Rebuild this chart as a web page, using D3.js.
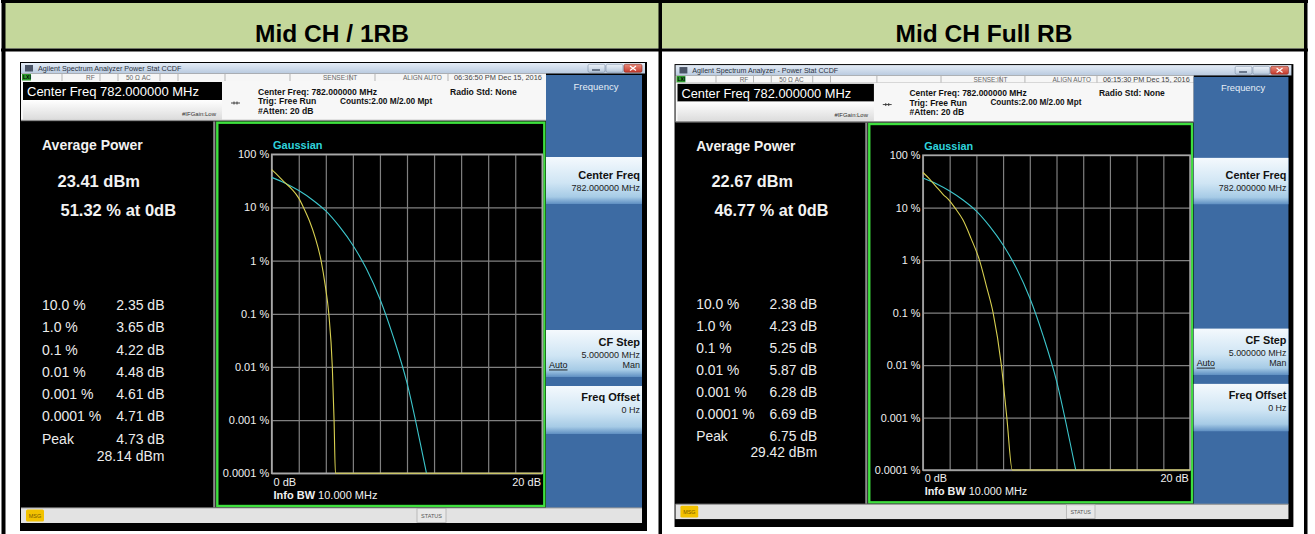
<!DOCTYPE html>
<html>
<head>
<meta charset="utf-8">
<script src="https://cdn.jsdelivr.net/npm/d3@7"></script>
<style>
  body { margin: 0; background: #fff; }
  svg { display: block; font-family: "Liberation Sans", Arial, sans-serif; }
</style>
</head>
<body>
<svg id="canvas" width="1315" height="534"></svg>
<script>
// ---- values ----
const panelTitles = ['Mid CH / 1RB', 'Mid CH Full RB'];
const windowTitles = ['Agilent Spectrum Analyzer   Power Stat CCDF', 'Agilent Spectrum Analyzer - Power Stat CCDF'];
const timestamps = ['06:36:50 PM Dec 15, 2016', '06:15:30 PM Dec 15, 2016'];
const avgPower = ['23.41 dBm', '22.67 dBm'];
const pctAtZero = ['51.32 % at 0dB', '46.77 % at 0dB'];
const ccdfLevels = ['10.0 %', '1.0 %', '0.1 %', '0.01 %', '0.001 %', '0.0001 %', 'Peak'];
const ccdf1RB = ['2.35 dB', '3.65 dB', '4.22 dB', '4.48 dB', '4.61 dB', '4.71 dB', '4.73 dB'];
const ccdfFullRB = ['2.38 dB', '4.23 dB', '5.25 dB', '5.87 dB', '6.28 dB', '6.69 dB', '6.75 dB'];
const peakPower = ['28.14 dBm', '29.42 dBm'];

const gridDb = [0, 2, 4, 6, 8, 10, 12, 14, 16, 18, 20];
const gridPct = [100, 10, 1, 0.1, 0.01, 0.001, 0.0001];
const pctLabels = ['100 %', '10 %', '1 %', '0.1 %', '0.01 %', '0.001 %', '0.0001 %'];

// measured trace (yellow), dB vs %
const trace1RBDb  = [0, 0.5, 1, 1.5, 2, 2.35, 2.8, 3.2, 3.65, 3.95, 4.22, 4.48, 4.61, 4.71, 20];
const trace1RBPct = [51.32, 39, 29, 22, 15, 10, 5.5, 2.8, 1, 0.35, 0.1, 0.01, 0.001, 0.0001, 0.0001];
const traceFullDb  = [0, 0.5, 1, 1.5, 2, 2.38, 3, 3.6, 4.23, 4.75, 5.25, 5.87, 6.28, 6.69, 20];
const traceFullPct = [46.77, 35, 25, 18, 13.5, 10, 5.8, 2.6, 1, 0.32, 0.1, 0.01, 0.001, 0.0001, 0.0001];
// Gaussian reference (cyan)
const gaussDb  = [0, 1, 2, 3, 4, 5, 6, 7, 8, 9, 10, 11, 11.44];
const gaussPct = [36.8, 28.6, 20.8, 14, 8.6, 4.4, 1.95, 0.7, 0.19, 0.036, 0.005, 0.00035, 0.0001];

const traces = [
  { db: trace1RBDb, pct: trace1RBPct, values: ccdf1RB },
  { db: traceFullDb, pct: traceFullPct, values: ccdfFullRB }
];

let canvas = d3.select('#canvas');
let defs = canvas.append('defs');

let grad = (id, stops) => {
  let lg = defs.append('linearGradient').attr('id', id)
    .attr('x1', 0).attr('y1', 0).attr('x2', 0).attr('y2', 1);
  stops.forEach(s => lg.append('stop').attr('offset', s[0]).attr('stop-color', s[1]));
};
grad('titleBar', [[0, '#e4ecf6'], [1, '#b9cadf']]);
grad('btn', [[0, '#f4f9fd'], [0.55, '#cfe5f4'], [0.85, '#a6cbe6'], [1, '#5f8fc2']]);
grad('field', [[0, '#ffffff'], [1, '#dcdcdc']]);
grad('winBtn', [[0, '#eef3f9'], [1, '#b7c8dc']]);
grad('closeBtn', [[0, '#e98a7a'], [1, '#c4372a']]);

// ---- table frame ----
canvas.append('rect').attr('x', 1).attr('y', 0).attr('width', 1307).attr('height', 3).attr('fill', '#000');
canvas.append('rect').attr('x', 4).attr('y', 3).attr('width', 1301).attr('height', 45.5).attr('fill', '#c4d79b');
canvas.append('rect').attr('x', 1).attr('y', 48.5).attr('width', 1307).attr('height', 3).attr('fill', '#000');
[[1.5, 4], [658.5, 3.5], [1304, 3.5]].forEach(b => {
  canvas.append('rect').attr('x', b[0]).attr('y', 0).attr('width', b[1]).attr('height', 534).attr('fill', '#000');
});
canvas.selectAll('.head')
  .data(panelTitles)
  .enter()
  .append('text')
  .attr('class', 'head')
  .attr('x', (d, i) => i === 0 ? 332 : 984)
  .attr('y', 41.5)
  .attr('text-anchor', 'middle')
  .attr('font-size', 24.5)
  .attr('font-weight', 'bold')
  .attr('fill', '#000')
  .text(d => d);

let txt = (g, x, y, s, size, opts = {}) => {
  let t = g.append('text').attr('x', x).attr('y', y)
    .attr('font-size', size)
    .attr('fill', opts.fill || '#fff')
    .attr('text-anchor', opts.anchor || 'start')
    .attr('dominant-baseline', 'central')
    .text(s);
  if (opts.bold) t.attr('font-weight', 'bold');
  if (opts.underline) t.attr('text-decoration', 'underline');
  return t;
};

let drawWindow = (g, i) => {
  // frame and title bar
  g.append('rect').attr('x', 20).attr('y', 62).attr('width', 627).attr('height', 469).attr('fill', '#000');
  g.append('rect').attr('x', 21).attr('y', 63).attr('width', 624).attr('height', 10.5).attr('fill', 'url(#titleBar)');
  g.append('rect').attr('x', 25).attr('y', 65).attr('width', 8).attr('height', 6.5).attr('fill', '#4a5466');
  txt(g, 38, 68.5, windowTitles[i], 7.2, { fill: '#2a3240' });
  [588, 606].forEach(x => {
    g.append('rect').attr('x', x).attr('y', 64.3).attr('width', 17).attr('height', 8)
      .attr('rx', 1.5).attr('fill', 'url(#winBtn)').attr('stroke', '#7d8ea6').attr('stroke-width', 0.6);
  });
  g.append('rect').attr('x', 624).attr('y', 64.3).attr('width', 18).attr('height', 8)
    .attr('rx', 1.5).attr('fill', 'url(#closeBtn)').attr('stroke', '#8a2a20').attr('stroke-width', 0.6);
  g.append('path').attr('d', 'M592,70 h8').attr('stroke', '#2c3a50').attr('stroke-width', 1.2);
  g.append('path').attr('d', 'M630,66 l6,4.5 M636,66 l-6,4.5').attr('stroke', '#fff').attr('stroke-width', 1.2);

  // status row
  g.append('rect').attr('x', 21).attr('y', 73.5).attr('width', 525).attr('height', 7.5).attr('fill', '#f6f6f6');
  g.append('rect').attr('x', 22).attr('y', 74).attr('width', 9).attr('height', 6.5).attr('fill', '#2d9a2d');
  txt(g, 23, 77.3, 'LXI', 5, { fill: '#000', bold: true });
  [62, 100, 118, 160, 178, 225, 290, 350, 375, 448].forEach(x => {
    g.append('line').attr('x1', x).attr('x2', x).attr('y1', 73.5).attr('y2', 81).attr('stroke', '#b5b5b5');
  });
  txt(g, 86, 77.3, 'RF', 6.5, { fill: '#666' });
  txt(g, 126, 77.3, '50 Ω    AC', 6.5, { fill: '#666' });
  txt(g, 323, 77.3, 'SENSE:INT', 6.5, { fill: '#666' });
  txt(g, 403, 77.3, 'ALIGN AUTO', 6.5, { fill: '#666' });
  txt(g, 454, 77.3, timestamps[i], 7.4, { fill: '#444' });

  // measurement header
  g.append('rect').attr('x', 21).attr('y', 81).attr('width', 525).attr('height', 39.5).attr('fill', '#f7f7f7');
  g.append('rect').attr('x', 23).attr('y', 82).attr('width', 199).attr('height', 18).attr('fill', '#000');
  txt(g, 27, 91.5, 'Center Freq 782.000000 MHz', 13, { fill: '#fff' });
  g.append('rect').attr('x', 23).attr('y', 100).attr('width', 199).attr('height', 19.5).attr('fill', 'url(#field)');
  txt(g, 182, 113.5, '#IFGain:Low', 6, { fill: '#333' });
  g.append('path').attr('d', 'M231,103 h9 M234,101.5 v3 M237,101.5 v3').attr('stroke', '#333').attr('stroke-width', 0.9);
  txt(g, 258, 91.5, 'Center Freq: 782.000000 MHz', 8.6, { fill: '#111', bold: true });
  txt(g, 450, 91.5, 'Radio Std: None', 8.6, { fill: '#111', bold: true });
  txt(g, 258, 101, 'Trig: Free Run', 8.6, { fill: '#111', bold: true });
  txt(g, 340, 101, 'Counts:2.00 M/2.00 Mpt', 8.3, { fill: '#111', bold: true });
  txt(g, 258, 111, '#Atten: 20 dB', 8.6, { fill: '#111', bold: true });
  g.append('rect').attr('x', 21).attr('y', 119.8).attr('width', 525).attr('height', 1.6).attr('fill', '#8a8a8a');

  // black display area
  g.append('rect').attr('x', 21).attr('y', 121.4).attr('width', 525).attr('height', 386).attr('fill', '#000');
  g.append('rect').attr('x', 213.2).attr('y', 121.4).attr('width', 2.2).attr('height', 386).attr('fill', '#8a8a8a');

  // results panel
  txt(g, 42, 144.5, 'Average Power', 14, { fill: '#f2f2f2', bold: true });
  txt(g, 57.5, 180.5, avgPower[i], 16.5, { fill: '#f2f2f2', bold: true });
  txt(g, 60.5, 209.5, pctAtZero[i], 16.5, { fill: '#f2f2f2', bold: true });
  let rowY = d3.scaleLinear().domain([0, 6]).range([305, 438.5]);
  g.selectAll('.lvl').data(ccdfLevels).enter().append('text')
    .attr('class', 'lvl')
    .attr('x', 42).attr('y', (d, k) => rowY(k))
    .attr('dominant-baseline', 'central')
    .attr('font-size', 14).attr('fill', '#ececec')
    .text(d => d);
  g.selectAll('.val').data(traces[i].values).enter().append('text')
    .attr('class', 'val')
    .attr('x', 164.5).attr('y', (d, k) => rowY(k))
    .attr('dominant-baseline', 'central')
    .attr('text-anchor', 'end')
    .attr('font-size', 14).attr('fill', '#ececec')
    .text(d => d);
  txt(g, 164.5, 455.5, peakPower[i], 14, { fill: '#ececec', anchor: 'end' });

  // plot
  g.append('rect').attr('x', 217.3).attr('y', 122.7).attr('width', 327).attr('height', 383.3)
    .attr('fill', 'none').attr('stroke', '#3ee03e').attr('stroke-width', 2.4);

  let x = d3.scaleLinear().domain([0, 20]).range([271.7, 542.3]);
  let y = d3.scaleLog().domain([100, 0.0001]).range([154.3, 473.3]);
  let w = x.range()[1] - x.range()[0];
  let h = y.range()[1] - y.range()[0];

  let xAxis = g.append('g')
    .attr('transform', `translate(0,${y.range()[0]})`)
    .call(d3.axisBottom(x).tickValues(gridDb).tickSize(h).tickFormat(''));
  xAxis.select('.domain').remove();
  xAxis.selectAll('.tick line').attr('stroke', '#808080').attr('stroke-width', 1.2);

  let yAxis = g.append('g')
    .attr('transform', `translate(${x.range()[0]},0)`)
    .call(d3.axisLeft(y).tickValues(gridPct).tickSize(-w).tickPadding(2.5)
      .tickFormat((d, k) => pctLabels[k]));
  yAxis.select('.domain').remove();
  yAxis.selectAll('.tick line').attr('stroke', '#808080').attr('stroke-width', 1.2);
  yAxis.selectAll('.tick text').attr('fill', '#f0f0f0').attr('font-size', 11)
    .attr('font-family', '"Liberation Sans", Arial, sans-serif');

  g.append('rect').attr('x', x(0)).attr('y', y(100)).attr('width', w).attr('height', h)
    .attr('fill', 'none').attr('stroke', '#a8a8a8').attr('stroke-width', 1.6);

  txt(g, 273, 144.5, 'Gaussian', 11, { fill: '#2fd3dc', bold: true });
  txt(g, 273.5, 481.5, '0 dB', 11, { fill: '#f0f0f0' });
  txt(g, 541, 481.5, '20 dB', 11, { fill: '#f0f0f0', anchor: 'end' });
  let info = txt(g, 273.5, 494.5, '', 11, { fill: '#f0f0f0' });
  info.append('tspan').attr('font-weight', 'bold').text('Info BW ');
  info.append('tspan').text('10.000 MHz');

  let line = d3.line().x(d => x(d[0])).y(d => y(d[1])).curve(d3.curveMonotoneX);
  g.append('path')
    .datum(gaussDb.map((d, k) => [d, gaussPct[k]]))
    .attr('d', line).attr('fill', 'none').attr('stroke', '#3cc6cc').attr('stroke-width', 1.1);
  g.append('path')
    .datum(traces[i].db.map((d, k) => [d, traces[i].pct[k]]))
    .attr('d', line).attr('fill', 'none').attr('stroke', '#d8d050').attr('stroke-width', 1.1);

  // softkeys
  g.append('rect').attr('x', 546).attr('y', 75).attr('width', 96).attr('height', 433).attr('fill', '#3d6ba3');
  txt(g, 596, 86, 'Frequency', 9.5, { fill: '#e6eef6', anchor: 'middle' });
  [[157, 47], [330, 47], [386, 48]].forEach(b => {
    g.append('rect').attr('x', 546).attr('y', b[0]).attr('width', 96).attr('height', b[1]).attr('fill', 'url(#btn)');
  });
  txt(g, 640, 174.5, 'Center Freq', 11, { fill: '#111', bold: true, anchor: 'end' });
  txt(g, 640, 188, '782.000000 MHz', 9, { fill: '#222', anchor: 'end' });
  txt(g, 640, 342, 'CF Step', 11, { fill: '#111', bold: true, anchor: 'end' });
  txt(g, 640, 354.5, '5.000000 MHz', 9, { fill: '#222', anchor: 'end' });
  txt(g, 549, 364.5, 'Auto', 9, { fill: '#111', underline: true });
  txt(g, 640, 364.5, 'Man', 9, { fill: '#222', anchor: 'end' });
  txt(g, 640, 397, 'Freq Offset', 11, { fill: '#111', bold: true, anchor: 'end' });
  txt(g, 640, 410, '0 Hz', 9, { fill: '#222', anchor: 'end' });

  // status bar
  g.append('rect').attr('x', 21).attr('y', 508).attr('width', 621).attr('height', 15).attr('fill', '#e3e3e3');
  g.append('rect').attr('x', 21).attr('y', 507.4).attr('width', 621).attr('height', 1).attr('fill', '#9a9a9a');
  g.append('rect').attr('x', 26).attr('y', 509.5).attr('width', 18).attr('height', 12).attr('rx', 1.5).attr('fill', '#f2c200');
  txt(g, 35, 515.5, 'MSG', 5.5, { fill: '#7a5a00', anchor: 'middle' });
  g.append('rect').attr('x', 417).attr('y', 508.5).attr('width', 29).attr('height', 14)
    .attr('fill', '#e8e8e8').attr('stroke', '#b0b0b0').attr('stroke-width', 0.8);
  txt(g, 431.5, 515.5, 'STATUS', 5.5, { fill: '#555', anchor: 'middle' });
};

drawWindow(canvas.append('g'), 0);
drawWindow(canvas.append('g').attr('transform', 'translate(654.8,2.9) scale(0.987)'), 1);
</script>
</body>
</html>
